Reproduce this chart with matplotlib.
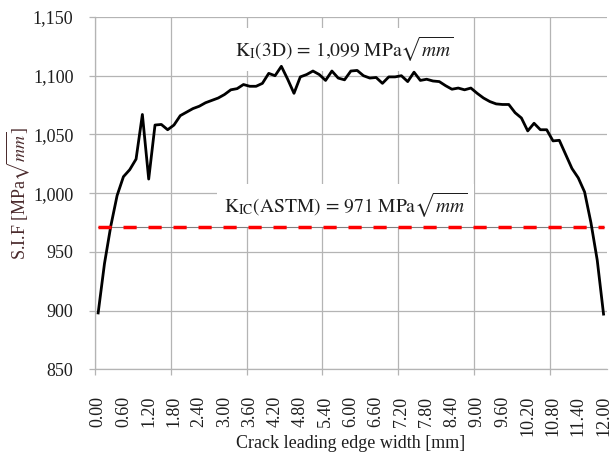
import matplotlib
matplotlib.use("Agg")
import matplotlib.pyplot as plt

# Crack front position [mm] and stress intensity factor [MPa*sqrt(mm)]
width_mm = [
    0.00, 0.15, 0.30, 0.45, 0.60, 0.75, 0.90, 1.05, 1.20, 1.35,
    1.50, 1.65, 1.80, 1.95, 2.10, 2.25, 2.40, 2.55, 2.70, 2.85,
    3.00, 3.15, 3.30, 3.45, 3.60, 3.75, 3.90, 4.05, 4.20, 4.35,
    4.50, 4.65, 4.80, 4.95, 5.10, 5.25, 5.40, 5.55, 5.70, 5.85,
    6.00, 6.15, 6.30, 6.45, 6.60, 6.75, 6.90, 7.05, 7.20, 7.35,
    7.50, 7.65, 7.80, 7.95, 8.10, 8.25, 8.40, 8.55, 8.70, 8.85,
    9.00, 9.15, 9.30, 9.45, 9.60, 9.75, 9.90, 10.05, 10.20, 10.35,
    10.50, 10.65, 10.80, 10.95, 11.10, 11.25, 11.40, 11.55, 11.70, 11.85,
    12.00,
]
sif_3d = [
    898, 940, 972, 998, 1014, 1020, 1029, 1067, 1012, 1058,
    1058.5, 1054, 1058, 1066, 1069, 1072, 1074, 1077, 1079, 1081,
    1084, 1088, 1089, 1092.5, 1091, 1091, 1093.5, 1102, 1100, 1108,
    1097, 1085, 1099, 1101, 1104, 1101, 1096, 1104, 1098, 1096.5,
    1104, 1104.5, 1100, 1098, 1098.5, 1093.5, 1099, 1099, 1100, 1095,
    1103, 1096, 1097, 1095.5, 1095, 1091.5, 1088.5, 1089.5, 1088, 1089.5,
    1085, 1081, 1078, 1076, 1075.5, 1075.5, 1068.5, 1064, 1053, 1059.5,
    1054, 1054, 1044.5, 1045, 1033, 1021, 1013, 1001, 975, 943,
    897,
]
k_ic_astm = 971
k_i_mean = 1099

x_tick_labels = [
    0.00, 0.60, 1.20, 1.80, 2.40, 3.00, 3.60, 4.20, 4.80, 5.40, 6.00,
    6.60, 7.20, 7.80, 8.40, 9.00, 9.60, 10.20, 10.80, 11.40, 12.00,
]
y_ticks = [850, 900, 950, 1000, 1050, 1100, 1150]

plt.rcParams["font.family"] = ["Liberation Serif", "DejaVu Serif"]
plt.rcParams["mathtext.fontset"] = "stix"

W, H = 609, 454
fig = plt.figure(figsize=(W / 100, H / 100), dpi=100)
ax = fig.add_axes([95 / W, 1 - 369.3 / H, (606.7 - 95) / W, (369.3 - 17) / H])

# Excel-style category axis: half a step of padding on both ends
half = (width_mm[1] - width_mm[0]) / 2
ax.set_xlim(width_mm[0] - half, width_mm[-1] + half)
ax.set_ylim(y_ticks[0], y_ticks[-1])

grid_col = "#B4B4B4"
text_col = "#1E1E1E"

ax.set_xticks(x_tick_labels)
ax.set_xticklabels([f"{v:.2f}" for v in x_tick_labels])
ax.set_xticks([width_mm[0] - half + 1.8 * k for k in range(7)], minor=True)
ax.tick_params(axis="x", which="major", length=0, pad=19, rotation=90,
               labelsize=13, labelcolor=text_col)
ax.tick_params(axis="x", which="minor", length=4, width=0.9, color=grid_col)
ax.grid(axis="x", which="minor", color=grid_col, lw=0.9)

ax.set_yticks(y_ticks)
ax.set_yticklabels([f"{v:,}" for v in y_ticks])
ax.tick_params(axis="y", length=4.5, width=0.9, color=grid_col, pad=11,
               labelsize=13, labelcolor=text_col)
ax.grid(axis="y", which="major", color=grid_col, lw=0.9)

for side in ("top", "right"):
    ax.spines[side].set_visible(False)
for side in ("left", "bottom"):
    ax.spines[side].set_color(grid_col)
    ax.spines[side].set_linewidth(0.9)

ax.plot(width_mm, sif_3d, color="black", lw=2.0, zorder=5)

ends = [width_mm[0], width_mm[-1]]
ax.plot(ends, [k_ic_astm] * 2, color="#7F7F7F", lw=0.8, zorder=4)
ax.plot(ends, [k_ic_astm] * 2, color="#FF0000", lw=2.5, dashes=(3.8, 3.4),
        zorder=6)

k_i_txt = f"{k_i_mean // 1000}{{,}}{k_i_mean % 1000:03d}"
box = dict(facecolor="white", edgecolor="none", pad=5)
ax.text(5.85, 1116, rf"$\mathrm{{K_I(3D)}}\,=\,{k_i_txt}\ \mathrm{{MPa}}\sqrt{{mm}}$",
        ha="center", va="baseline", fontsize=14, color=text_col, bbox=box,
        zorder=3)
ax.text(5.87, 983, rf"$\mathrm{{K_{{IC}}(ASTM)}}\,=\,{k_ic_astm}\ \mathrm{{MPa}}\sqrt{{mm}}$",
        ha="center", va="baseline", fontsize=14, color=text_col, bbox=box,
        zorder=3)

fig.text(18 / W, 1 - 193 / H, r"S.I.F [MPa$\sqrt{mm}$]", rotation=90,
         ha="center", va="center", fontsize=13, color="#4A2A2C")
fig.text(351 / W, 1 - 443 / H, "Crack leading edge width [mm]",
         ha="center", va="center", fontsize=13, color=text_col)

fig.savefig("out.png", dpi=100)
